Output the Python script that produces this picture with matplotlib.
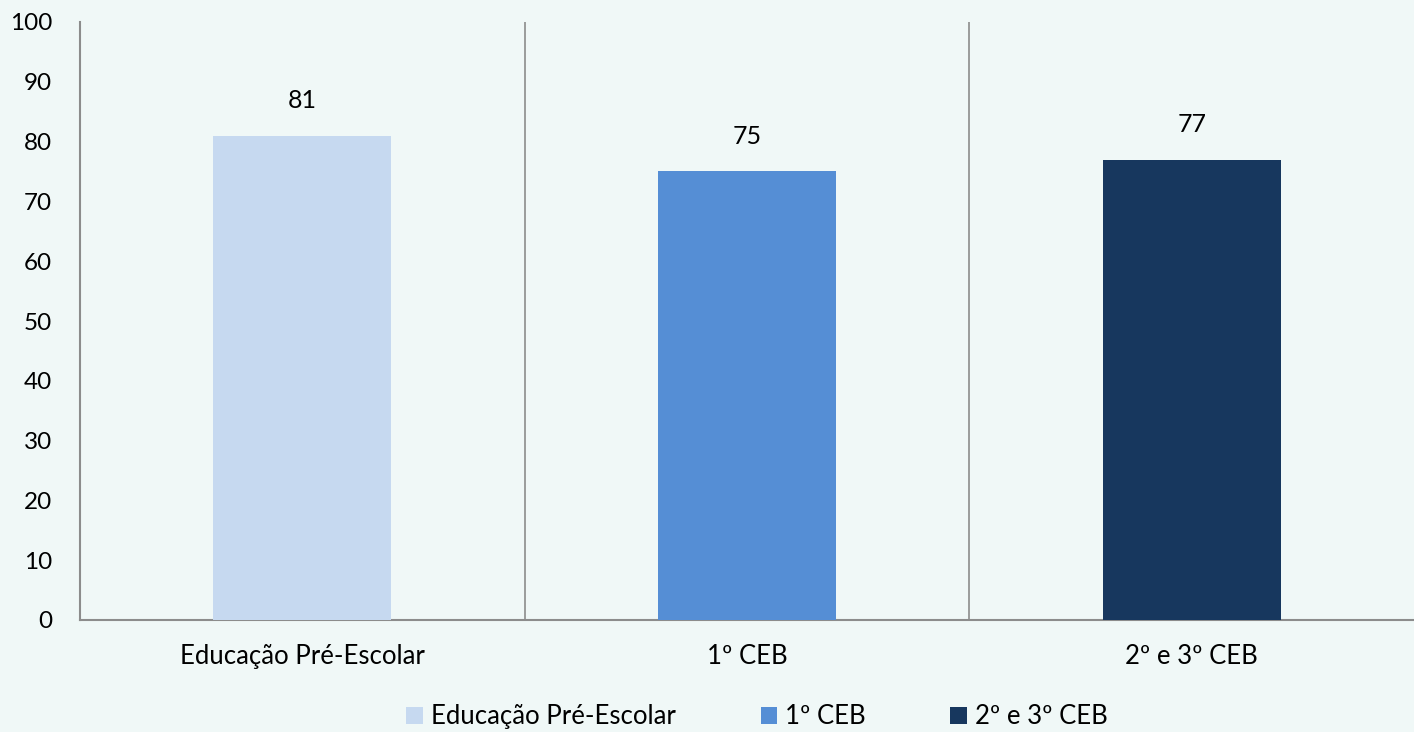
import matplotlib

matplotlib.use("Agg")

import matplotlib.pyplot as plt
from matplotlib.patches import Patch

categories = ["Educação Pré-Escolar", "1º CEB", "2º e 3º CEB"]
values = [81, 75, 77]
colors = ["#C6D9F0", "#558ED5", "#17375E"]
y_ticks = list(range(0, 101, 10))

BG = "#F0F8F7"
GRID = "#8C8C8C"

plt.rcParams["font.family"] = ["Lato", "DejaVu Sans"]

fig = plt.figure(figsize=(14.14, 7.32), dpi=100, facecolor=BG)
ax = fig.add_axes([80 / 1414, 1 - 620 / 732, 1334 / 1414, 598 / 732])
ax.set_facecolor(BG)

positions = list(range(len(categories)))
ax.bar(positions, values, width=0.4, color=colors, zorder=3)

for pos, value in zip(positions, values):
    ax.annotate(f"{value}", (pos, value), xytext=(0, 17), textcoords="offset points",
                ha="center", va="bottom", fontsize=18, color="#000000")

# category separators
for boundary in [0.5, 1.5]:
    ax.axvline(boundary, color=GRID, linewidth=1.2, zorder=1)

ax.set_xlim(-0.5, len(categories) - 0.5)
ax.set_ylim(0, 100)
ax.set_yticks(y_ticks)
ax.set_xticks(positions)
ax.set_xticklabels(categories)
ax.tick_params(axis="both", length=0, colors="#000000")
ax.tick_params(axis="x", pad=17, labelsize=18.5)
ax.tick_params(axis="y", pad=20, labelsize=17.5)

for side in ["top", "right"]:
    ax.spines[side].set_visible(False)
for side in ["left", "bottom"]:
    ax.spines[side].set_color(GRID)
    ax.spines[side].set_linewidth(1.5)

handles = [Patch(facecolor=c, edgecolor="none") for c in colors]
fig.legend(handles, categories, loc="lower center", bbox_to_anchor=(757 / 1414, -0.028),
           ncol=3, frameon=False, fontsize=18.5, handlelength=0.65, handleheight=0.65,
           handletextpad=0.3, columnspacing=3.3)

fig.savefig("out.png", dpi=100, facecolor=BG)
